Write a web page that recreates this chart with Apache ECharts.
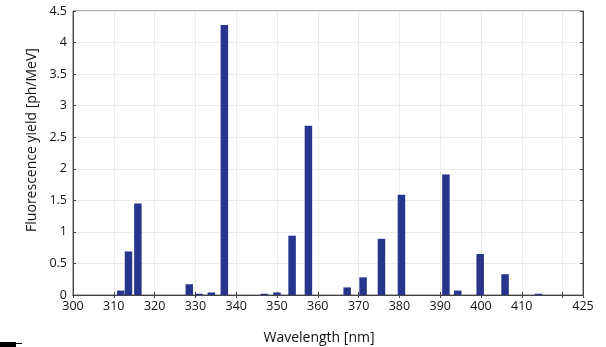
<!DOCTYPE html>
<html>
<head>
<meta charset="utf-8">
<script src="https://cdn.jsdelivr.net/npm/echarts@6/dist/echarts.min.js"></script>
<style>
  html, body { margin: 0; padding: 0; background: #fff; }
  #chart { width: 606px; height: 347px; }
</style>
</head>
<body>
<div id="chart"></div>
<script>
// 波长 (nm)
const wavelengths = [311.7, 313.6, 315.9, 328.5, 330.9, 333.9, 337.1, 346.9, 350.0, 353.7,
  357.7, 367.2, 371.1, 375.6, 380.5, 391.4, 394.3, 399.8, 405.9, 414.1]
// 荧光产额 (ph/MeV)
const yields = [0.07, 0.69, 1.45, 0.17, 0.02, 0.04, 4.28, 0.02, 0.04, 0.94,
  2.68, 0.12, 0.28, 0.89, 1.59, 1.91, 0.07, 0.65, 0.33, 0.02]

const chart = echarts.init(document.getElementById('chart'))
const font = '"Open Sans", "DejaVu Sans", sans-serif'
const tickStyle = { show: true, inside: true, length: 3, lineStyle: { color: '#444' } }
const gridLine = { show: true, lineStyle: { color: '#ececec', width: 1 } }

const option = {
  animation: false,
  grid: {
    left: 73,
    right: 23,
    top: 11,
    bottom: 52,
    // 不让名字挤压坐标区
    outerBoundsMode: 'none',
    containLabel: false,
    show: true,
    borderColor: '#666',
    borderWidth: 1
  },
  xAxis: [
    {
      type: 'value',
      min: 300,
      max: 425,
      interval: 10,
      name: 'Wavelength [nm]',
      nameLocation: 'middle',
      nameGap: 36,
      // 整体往左挪一点
      nameTextStyle: { fontFamily: font, fontSize: 14, color: '#111', padding: [0, 18, 0, 0] },
      axisLine: { lineStyle: { color: '#444' } },
      axisTick: tickStyle,
      axisLabel: {
        fontFamily: font,
        fontSize: 12.5,
        color: '#111',
        margin: 5,
        showMaxLabel: true,
        formatter: v => (v === 420 ? '' : String(v))
      },
      splitLine: gridLine
    },
    {
      type: 'value',
      position: 'top',
      min: 300,
      max: 425,
      interval: 10,
      axisLine: { show: true, lineStyle: { color: '#444' } },
      axisTick: tickStyle,
      axisLabel: { show: false },
      splitLine: { show: false }
    }
  ],
  yAxis: [
    {
      type: 'value',
      min: 0,
      max: 4.5,
      interval: 0.5,
      name: 'Fluorescence yield [ph/MeV]',
      nameLocation: 'middle',
      nameGap: 25,
      // 往上挪
      nameTextStyle: { fontFamily: font, fontSize: 14, color: '#111', padding: [0, 0, 0, 26] },
      axisLine: { show: true, lineStyle: { color: '#444' } },
      axisTick: tickStyle,
      axisLabel: { fontFamily: font, fontSize: 12.5, color: '#111', margin: 6 },
      splitLine: gridLine
    },
    {
      type: 'value',
      position: 'right',
      min: 0,
      max: 4.5,
      interval: 0.5,
      axisLine: { show: true, lineStyle: { color: '#444' } },
      axisTick: tickStyle,
      axisLabel: { show: false },
      splitLine: { show: false }
    }
  ],
  series: [
    {
      type: 'bar',
      barWidth: 7.5,
      itemStyle: { color: '#27358c' },
      data: wavelengths.map((w, i) => [w, yields[i]])
    }
  ],
  graphic: [
    { type: 'rect', shape: { x: 0, y: 342, width: 16, height: 5 }, style: { fill: '#000' } },
    { type: 'rect', shape: { x: 16, y: 343, width: 6, height: 1 }, style: { fill: '#000' } }
  ]
}
chart.setOption(option)
</script>
</body>
</html>
